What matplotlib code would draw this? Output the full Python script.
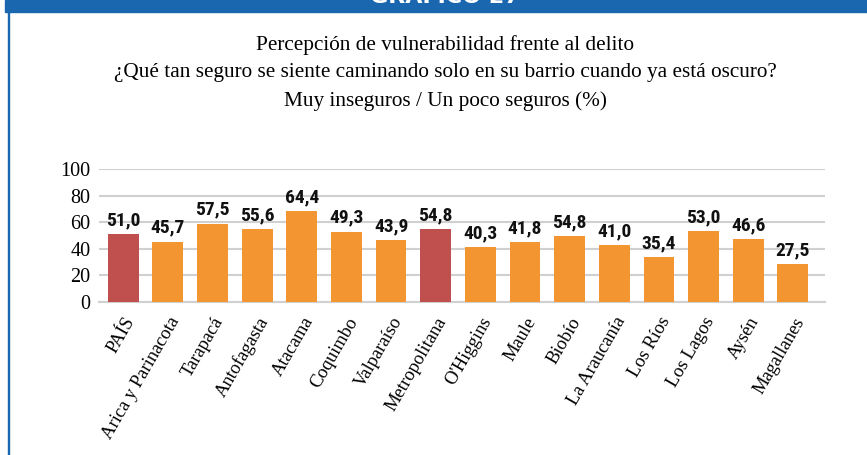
import matplotlib
matplotlib.use("Agg")
import matplotlib.pyplot as plt
from matplotlib import font_manager
from matplotlib.patches import Rectangle

regions = ["PAÍS", "Arica y Parinacota", "Tarapacá", "Antofagasta", "Atacama",
           "Coquimbo", "Valparaíso", "Metropolitana", "O'Higgins", "Maule",
           "Biobío", "La Araucanía", "Los Ríos", "Los Lagos", "Aysén", "Magallanes"]
# bar heights as drawn in the picture
heights = [51.1, 45.3, 58.9, 54.9, 68.5, 52.9, 46.6, 54.9,
           41.3, 45.1, 49.6, 42.8, 33.8, 53.4, 47.4, 28.5]
# value labels printed over the bars
value_labels = ["51,0", "45,7", "57,5", "55,6", "64,4", "49,3", "43,9", "54,8",
                "40,3", "41,8", "54,8", "41,0", "35,4", "53,0", "46,6", "27,5"]
highlight = ["PAÍS", "Metropolitana"]

orange = "#F39530"
red = "#C0504D"
blue = "#1A67B0"
serif = "Liberation Serif"

# pick a narrow bold font for the value labels if one is around
names = {f.name for f in font_manager.fontManager.ttflist}
label_font = "Roboto"
label_size = 12.5
for cand in ["Liberation Sans Narrow", "Roboto Condensed", "Open Sans Condensed"]:
    if cand in names:
        label_font = cand
        label_size = 14
        break

fig = plt.figure(figsize=(8.67, 4.55), dpi=100)

# frame: blue banner on top and thin blue line on the left
fig.patches.append(Rectangle((5 / 867, 1 - 12 / 455), 1, 12 / 455,
                             transform=fig.transFigure, color=blue, zorder=0))
fig.patches.append(Rectangle((7.5 / 867, 0), 1.5 / 867, 1,
                             transform=fig.transFigure, color=blue, zorder=0))
# banner title, mostly cut off at the top edge as in the source
fig.text(445 / 867, 1 - 3 / 455, "GRÁFICO 27", color="white", fontsize=16,
         ha="center", va="baseline", family="DejaVu Sans", weight="bold")

fig.text(445 / 867, 1 - 45 / 455, "Percepción de vulnerabilidad frente al delito",
         ha="center", va="center", fontsize=15.3, family=serif)
fig.text(445 / 867, 1 - 73 / 455,
         "¿Qué tan seguro se siente caminando solo en su barrio cuando ya está oscuro?",
         ha="center", va="center", fontsize=15.3, family=serif)
fig.text(445 / 867, 1 - 101 / 455, "Muy inseguros / Un poco seguros (%)",
         ha="center", va="center", fontsize=15.3, family=serif)

ax = fig.add_axes([98.7 / 867, 1 - 301.7 / 455, (825 - 98.7) / 867, 132.4 / 455])
colors = [red if r in highlight else orange for r in regions]
x = list(range(len(regions)))
bars = ax.bar(x, heights, width=0.69, color=colors, zorder=3)

for b, lab in zip(bars, value_labels):
    ax.annotate(lab, (b.get_x() + b.get_width() / 2, b.get_height()),
                xytext=(0, 3.5), textcoords="offset points", ha="center", va="bottom",
                fontsize=label_size, weight="bold", family=label_font, color="#111111")

ax.set_ylim(0, 100)
ax.set_xlim(-0.55, 15.72)
ax.set_yticks([0, 20, 40, 60, 80, 100])
ax.yaxis.grid(True, color="#D0D0D0", linewidth=1.5, zorder=0)
ax.set_axisbelow(True)
for s in ["top", "right", "left"]:
    ax.spines[s].set_visible(False)
ax.spines["bottom"].set_color("#D0D0D0")
ax.spines["bottom"].set_linewidth(1.5)
ax.tick_params(axis="both", length=0)
ax.tick_params(axis="y", pad=6, labelsize=14.5)
for t in ax.get_yticklabels():
    t.set_family(serif)

ax.set_xticks(x)
ax.set_xticklabels(regions, rotation=60, ha="right", rotation_mode="anchor",
                   family=serif, fontsize=13.3)
ax.tick_params(axis="x", pad=9)

fig.savefig("out.png", dpi=100, facecolor="white")
